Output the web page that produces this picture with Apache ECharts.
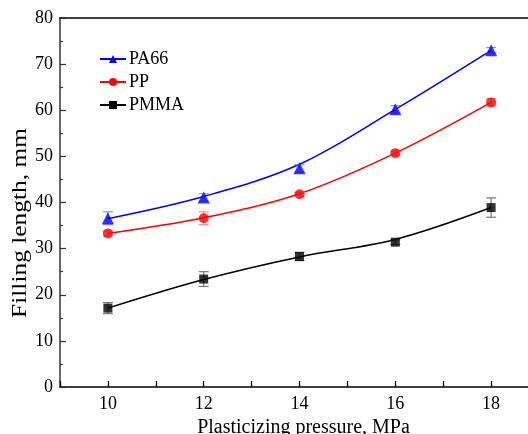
<!DOCTYPE html>
<html><head><meta charset="utf-8">
<script src="https://cdn.jsdelivr.net/npm/echarts@6/dist/echarts.min.js"></script>
<style>html,body{margin:0;padding:0;background:#fff}#c{width:528px;height:434px}</style>
</head><body><div id="c"></div>
<script>
const pressure = [10, 12, 14, 16, 18];
const seriesNames = ['PA66', 'PP', 'PMMA'];
// measured points
const pa66 = [36.6, 41.1, 47.4, 60.2, 73.0];
const pp = [33.3, 36.6, 41.8, 50.7, 61.7];
const pmma = [17.1, 23.4, 28.3, 31.4, 38.9];
// error (half-range)
const pa66Err = [1.4, 0.8, 0.8, 0.8, 0.6];
const ppErr = [0.5, 1.4, 0.4, 0.4, 0.8];
const pmmaErr = [1.2, 1.6, 0.9, 0.5, 2.1];
// fitted curve values read at the same pressures
const pa66Fit = [36.5, 41.3, 48.3, 60.2, 73.0];
const ppFit = [33.3, 36.7, 41.9, 50.7, 61.7];
const pmmaFit = [17.1, 23.3, 28.2, 32.0, 38.9];
const yTicks = [0, 10, 20, 30, 40, 50, 60, 70, 80];
const xTitle = 'Plasticizing pressure, MPa';
const yTitle = 'Filling length, mm';

const colors = ['#0000ff', '#ff0000', '#000000'];
const errColors = ['#8c8cff', '#ff8c8c', '#777777'];
const symbols = ['triangle', 'circle', 'rect'];
const symSizes = [12, 10, 9];
const pts = [pa66, pp, pmma];
const errs = [pa66Err, ppErr, pmmaErr];
const fits = [pa66Fit, ppFit, pmmaFit];
const font = 'Liberation Serif';

const chart = echarts.init(document.getElementById('c'));
const series = [];
seriesNames.forEach((name, i) => {
  series.push({
    name: name, type: 'line', xAxisIndex: 0, yAxisIndex: 0,
    data: pressure.map((x, j) => [x, fits[i][j]]),
    smooth: 0.35, showSymbol: false, symbol: symbols[i], symbolSize: symSizes[i] - 2,
    lineStyle: {color: colors[i], width: 1.5}, itemStyle: {color: colors[i]},
    z: 2, silent: true
  });
  series.push({
    type: 'custom', xAxisIndex: 0, yAxisIndex: 0,
    data: pressure.map((x, j) => [x, pts[i][j] - errs[i][j], pts[i][j] + errs[i][j]]),
    renderItem: function (params, api) {
      const lo = api.coord([api.value(0), api.value(1)]);
      const hi = api.coord([api.value(0), api.value(2)]);
      const w = 5;
      const st = {stroke: errColors[i], lineWidth: 1.2};
      return {type: 'group', children: [
        {type: 'line', shape: {x1: lo[0], y1: lo[1], x2: hi[0], y2: hi[1]}, style: st},
        {type: 'line', shape: {x1: lo[0] - w, y1: lo[1], x2: lo[0] + w, y2: lo[1]}, style: st},
        {type: 'line', shape: {x1: hi[0] - w, y1: hi[1], x2: hi[0] + w, y2: hi[1]}, style: st}
      ]};
    },
    z: 3, silent: true
  });
  series.push({
    type: 'scatter', xAxisIndex: 0, yAxisIndex: 0,
    data: pressure.map((x, j) => [x, pts[i][j]]),
    symbol: symbols[i], symbolSize: symSizes[i],
    itemStyle: {color: colors[i]}, z: 4, silent: true
  });
});

const hiddenAxisCommon = {
  type: 'value', min: 9, max: 19, interval: 1, gridIndex: 0,
  axisLabel: {show: false}, splitLine: {show: false}
};

chart.setOption({
  animation: false,
  backgroundColor: '#fff',
  grid: {left: 60, top: 18, right: -11, bottom: 47, containLabel: false, outerBoundsMode: 'none'},
  legend: {
    data: seriesNames, orient: 'vertical', left: 94, top: 45,
    itemWidth: 26, itemHeight: 10, itemGap: 5,
    textStyle: {fontFamily: font, fontSize: 18, color: '#000', padding: [0, 0, 0, -2]},
    selectedMode: false
  },
  graphic: [{
    type: 'text', x: 21, y: 223, rotation: Math.PI / 2, scaleX: 1.27,
    style: {text: yTitle, font: '20px "Liberation Serif"', fill: '#000', align: 'center', verticalAlign: 'middle'},
    silent: true
  }],
  xAxis: [
    Object.assign({}, hiddenAxisCommon, {
      position: 'bottom',
      axisLine: {show: true, lineStyle: {color: '#000', width: 1.5}},
      axisTick: {show: true, inside: true, length: 6, lineStyle: {color: '#000', width: 1.2},
        interval: function (idx, val) { return Number(val) % 2 === 0; }},
      axisLabel: {show: true, fontFamily: font, fontSize: 18, color: '#000', margin: 8,
        formatter: function (v) { return v % 2 === 0 ? String(v) : ''; }},
      name: xTitle, nameLocation: 'middle', nameGap: 25,
      nameTextStyle: {fontFamily: font, fontSize: 20, color: '#000', padding: [0, 0, 0, 8]}
    }),
    Object.assign({}, hiddenAxisCommon, {
      position: 'bottom',
      axisLine: {show: false},
      axisTick: {show: true, inside: true, length: 3, lineStyle: {color: '#000', width: 1.2},
        interval: function (idx, val) { return Number(val) % 2 !== 0; }}
    }),
    Object.assign({}, hiddenAxisCommon, {
      position: 'top',
      axisLine: {show: true, lineStyle: {color: '#000', width: 1.5}},
      axisTick: {show: false}
    })
  ],
  yAxis: [{
    type: 'value', min: yTicks[0], max: yTicks[yTicks.length - 1], interval: 10,
    axisLine: {show: true, lineStyle: {color: '#333', width: 1.5}},
    axisTick: {show: true, inside: true, length: 6, lineStyle: {color: '#333', width: 1.2}},
    minorTick: {show: true, splitNumber: 2, length: 3, lineStyle: {color: '#333', width: 1.2}},
    axisLabel: {fontFamily: font, fontSize: 18, color: '#000', margin: 7},
    splitLine: {show: false}
  }],
  series: series
});
</script></body></html>
